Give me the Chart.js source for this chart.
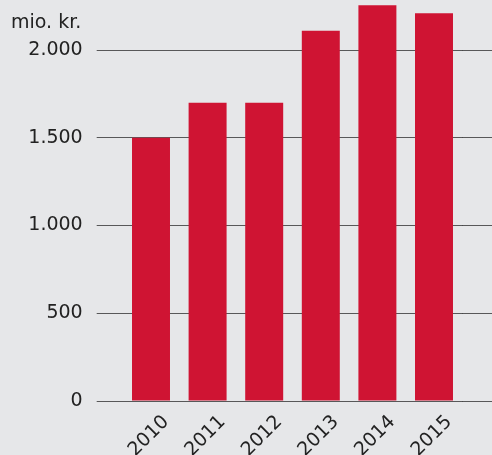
<!DOCTYPE html>
<html>
<head>
<meta charset="utf-8">
<script src="https://cdn.jsdelivr.net/npm/chart.js@4"></script>
<style>
  html, body { margin: 0; padding: 0; background: #e6e7e9; }
  .wrap { position: relative; width: 492px; height: 455px; overflow: hidden; }
  .unit {
    position: absolute; left: 11px; top: 12px;
    font: 19px/19px "DejaVu Sans", sans-serif; color: #222;
  }
</style>
</head>
<body>
<div class="wrap">
  <canvas id="revenue-chart" width="492" height="455"></canvas>
  <div class="unit">mio. kr.</div>
</div>
<script>
const years = ["2010", "2011", "2012", "2013", "2014", "2015"];
const revenue = [1500, 1700, 1700, 2110, 2255, 2210];
const yTickValues = [0, 500, 1000, 1500, 2000];
const yMax = 2285;

const textColor = "#222";
const gridColor = "rgba(0, 0, 0, 0.62)";
const fontFamily = "'DejaVu Sans', sans-serif";

// danish thousands separator
function formatNumber(v) {
  return String(v).replace(/\B(?=(\d{3})+(?!\d))/g, ".");
}

function setTicks(scale) {
  scale.ticks = yTickValues.map((v) => ({ value: v }));
}

// fixed sizes so the plot area sits where the reference has it
function fixWidth(w) {
  return (scale) => {
    scale.width = w;
    scale.paddingTop = 0;
    scale.paddingBottom = 0;
  };
}

const ctx = document.getElementById("revenue-chart").getContext("2d");

new Chart(ctx, {
  type: "bar",
  data: {
    labels: years,
    datasets: [
      {
        data: revenue,
        backgroundColor: "#cf1433",
        borderWidth: 0,
        barPercentage: 0.671,
        categoryPercentage: 1,
      },
    ],
  },
  options: {
    responsive: false,
    animation: false,
    layout: { padding: 0 },
    plugins: {
      legend: { display: false },
      tooltip: { enabled: false },
    },
    scales: {
      x: {
        grid: { display: false, drawTicks: false },
        border: { display: false },
        ticks: {
          color: textColor,
          font: { family: fontFamily, size: 19 },
          minRotation: 45,
          maxRotation: 45,
          padding: 10,
          labelOffset: 15,
        },
        afterFit: (scale) => {
          scale.height = 54;
          scale.paddingLeft = 0;
          scale.paddingRight = 0;
        },
      },
      y: {
        min: 0,
        max: yMax,
        z: 1,
        border: { display: false },
        grid: {
          color: gridColor,
          lineWidth: 1,
          drawTicks: true,
          tickLength: 26,
        },
        ticks: {
          color: textColor,
          font: { family: fontFamily, size: 19 },
          padding: 14,
          callback: (value) => formatNumber(value),
        },
        afterBuildTicks: setTicks,
        afterFit: fixWidth(122.7),
      },
      y2: {
        position: "right",
        min: 0,
        max: yMax,
        border: { display: false },
        grid: {
          color: gridColor,
          lineWidth: 1,
          drawOnChartArea: false,
          drawTicks: true,
          tickLength: 30,
        },
        ticks: { display: false },
        afterBuildTicks: setTicks,
        afterFit: fixWidth(29.7),
      },
    },
  },
});
</script>
</body>
</html>
